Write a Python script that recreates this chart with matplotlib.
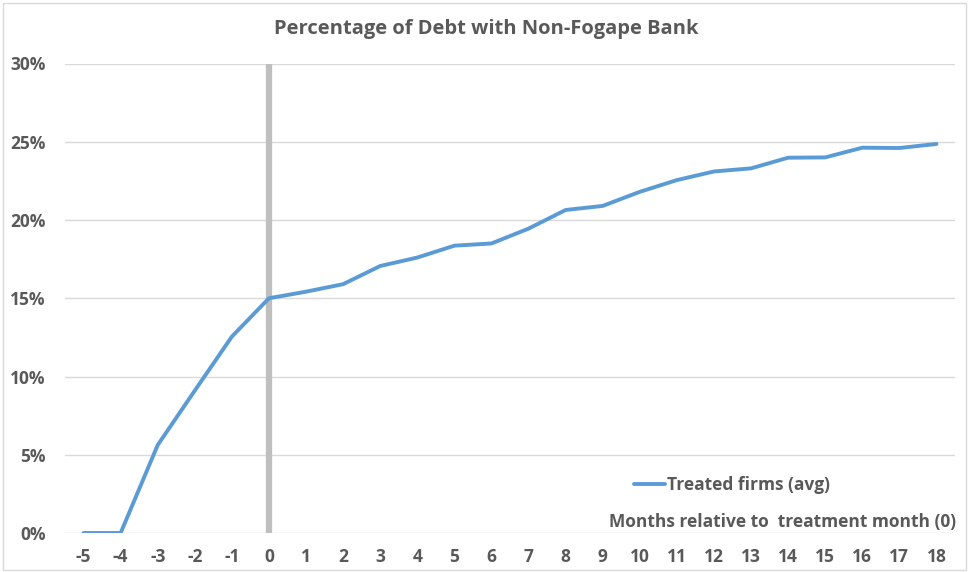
import matplotlib
matplotlib.use("Agg")
import matplotlib.pyplot as plt
from matplotlib.ticker import FuncFormatter
from matplotlib.patches import Rectangle

months = list(range(-5, 19))
values = [0.0, 0.0, 5.62, 9.1, 12.55, 15.0, 15.42, 15.9, 17.06, 17.6, 18.36, 18.5,
          19.45, 20.64, 20.9, 21.8, 22.55, 23.1, 23.3, 23.98, 24.0, 24.62, 24.6, 24.86]
yticks = [0, 5, 10, 15, 20, 25, 30]
title = "Percentage of Debt with Non-Fogape Bank"
series_name = "Treated firms (avg)"
xlabel = "Months relative to  treatment month (0)"

plt.rcParams['font.family'] = ['Open Sans', 'DejaVu Sans']
txt = "#595959"

fig = plt.figure(figsize=(9.69, 5.72), dpi=100)
ax = fig.add_axes([65/969, 1-533/572, 890/969, (533-63.5)/572])

for y in yticks:
    ax.axhline(y, color="#D9D9D9", lw=1.0, zorder=1)
ax.axvline(0, color="#BFBFBF", lw=4.5, zorder=2)
line, = ax.plot(months, values, color="#5B9BD5", lw=2.8, zorder=3,
                solid_joinstyle="round", solid_capstyle="round", label=series_name)

ax.set_xlim(-5.5, 18.5)
ax.set_ylim(0, 30)
ax.set_xticks(months)
ax.set_xticklabels([str(m) for m in months])
ax.set_yticks(yticks)
ax.yaxis.set_major_formatter(FuncFormatter(lambda v, p: f"{int(v)}%"))
for s in ax.spines.values():
    s.set_visible(False)
ax.tick_params(length=0, colors=txt, labelsize=12.5)
ax.tick_params(axis='x', pad=11)
ax.tick_params(axis='y', pad=14)
for lab in ax.get_xticklabels() + ax.get_yticklabels():
    lab.set_fontweight("bold")
    lab.set_color(txt)

fig.text(486/969, 1 - 29/572, title, ha="center", va="center",
         fontsize=14.5, fontweight="bold", color=txt)

leg = ax.legend(handles=[line], loc="center left", bbox_to_anchor=(618/969, 1-485/572),
                bbox_transform=fig.transFigure, frameon=False, handlelength=1.8,
                handletextpad=0.1, prop={"size": 12.5, "weight": "bold"}, labelcolor=txt)

fig.text(956/969, 1 - 522/572, xlabel, ha="right", va="center", fontsize=12.5,
         fontweight="bold", color=txt)

fig.patches.append(Rectangle((3/969, 2/572), 963/969, 567/572, transform=fig.transFigure,
                             fill=False, edgecolor="#D9D9D9", lw=1.0))

fig.savefig("out.png", dpi=100)
